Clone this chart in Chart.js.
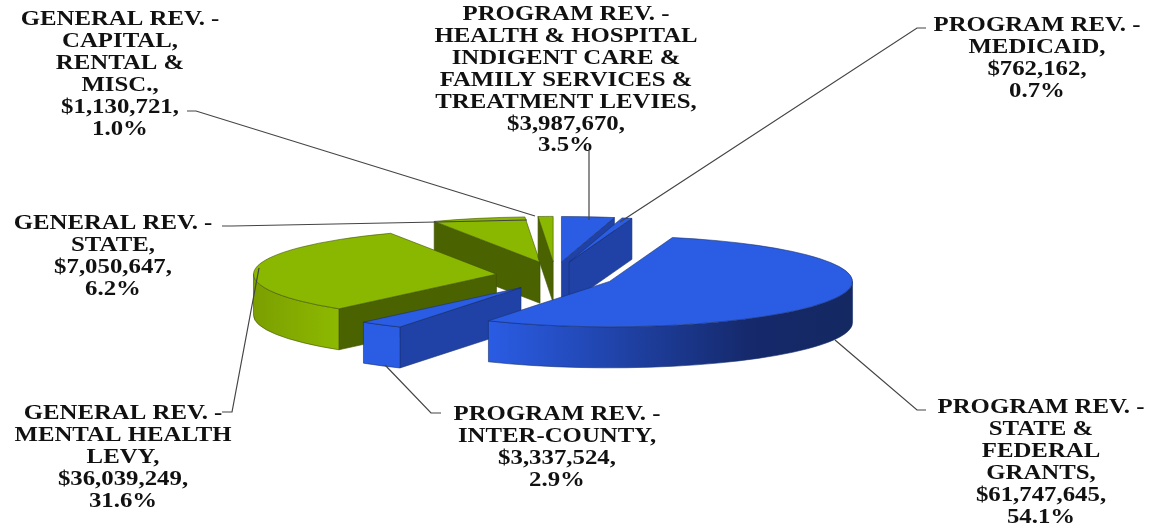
<!DOCTYPE html>
<html>
<head>
<meta charset="utf-8">
<title>Revenue sources</title>
<script src="https://cdn.jsdelivr.net/npm/chart.js@4"></script>
<style>
  html, body { margin: 0; padding: 0; background: #fff; }
  canvas { display: block; }
</style>
</head>
<body>
<canvas id="revenuePie" width="1151" height="525"></canvas>
<script>
// revenue by source, clockwise from 12 o'clock
const names = [
    ['PROGRAM REV. -', 'HEALTH & HOSPITAL', 'INDIGENT CARE &', 'FAMILY SERVICES &', 'TREATMENT LEVIES,'],
    ['PROGRAM REV. -', 'MEDICAID,'],
    ['PROGRAM REV. -', 'STATE &', 'FEDERAL', 'GRANTS,'],
    ['PROGRAM REV. -', 'INTER-COUNTY,'],
    ['GENERAL REV. -', 'MENTAL HEALTH', 'LEVY,'],
    ['GENERAL REV. -', 'STATE,'],
    ['GENERAL REV. -', 'CAPITAL,', 'RENTAL &', 'MISC.,']
];
const amounts = [3987670, 762162, 61747645, 3337524, 36039249, 7050647, 1130721];

const topColors = ['#2a5ce4', '#2a5ce4', '#2a5ce4', '#2a5ce4', '#8ab800', '#8ab800', '#8ab800'];
const edgeColors = ['#17306f', '#17306f', '#17306f', '#17306f', '#3f5200', '#3f5200', '#3f5200'];
const wallColors = ['#2042a6', '#2042a6', '#2042a6', '#2042a6', '#4b6200', '#4b6200', '#4b6200'];
const rimStops = [
    [[0, '#2a5ce4'], [1, '#2a5ce4']],
    [[0, '#2a5ce4'], [1, '#2a5ce4']],
    [[0, '#2a5ce4'], [0.72, '#15296b'], [1, '#142862']],
    [[0, '#2a5ce4'], [1, '#2a5ce4']],
    [[0, '#7b9f00'], [1, '#8db900']],
    [[0, '#8ab800'], [1, '#8ab800']],
    [[0, '#8ab800'], [1, '#8ab800']]
];

// slices are painted back to front
const paintOrder = [5, 6, 0, 1, 4, 3, 2];

const pieRadius = 243;
const flatten = 0.187;   // vertical squash of the disc
const explode = 59;
const explodeFlat = 0.24;
const depth = 41;

// label blocks: centre x, first baseline y, leader polyline
const labelX = [566, 1037, 1041, 557, 123, 113, 120];
const labelY = [20, 31, 413, 420, 419, 229, 25];
const leaders = [
    [[589, 151], [589, 220]],
    [[926, 28], [917, 28], [620, 222]],
    [[926, 410], [917, 410], [835, 340]],
    [[441, 413], [431, 413], [385, 365]],
    [[222, 412], [232, 412], [259, 268]],
    [[222, 226], [232, 226], [437, 222], [527, 220]],
    [[187, 111], [196, 111], [535, 216]]
];
const lineGap = 21.9;
const textStretch = 1.24;

const pie3d = {
    id: 'pie3d',
    beforeDatasetsDraw(chart) {
        const ctx = chart.ctx;
        const arcs = chart.getDatasetMeta(0).data;

        paintOrder.forEach(i => {
            const arc = arcs[i];
            const r = arc.outerRadius;
            const ry = r * flatten;
            const mid = (arc.startAngle + arc.endAngle) / 2;
            const ax = arc.x + Math.cos(mid) * explode;
            const ay = arc.y + Math.sin(mid) * explode * explodeFlat;
            const px = a => ax + Math.cos(a) * r;
            const py = a => ay + Math.sin(a) * ry;

            ctx.save();
            ctx.fillStyle = wallColors[i];
            ctx.strokeStyle = edgeColors[i];
            ctx.lineWidth = 0.6;

            // straight walls: a start edge faces us on the left half, an end edge on the right
            const walls = [];
            if (Math.cos(arc.startAngle) < -1e-6) walls.push(arc.startAngle);
            if (Math.cos(arc.endAngle) > 1e-6) walls.push(arc.endAngle);
            walls.forEach(a => {
                ctx.beginPath();
                ctx.moveTo(ax, ay);
                ctx.lineTo(px(a), py(a));
                ctx.lineTo(px(a), py(a) + depth);
                ctx.lineTo(ax, ay + depth);
                ctx.closePath();
                ctx.fill();
                ctx.stroke();
            });

            // curved outer wall, only the part facing the viewer
            const from = Math.max(arc.startAngle, 0);
            const to = Math.min(arc.endAngle, Math.PI);
            if (to > from) {
                const xs = [px(from), px(to)];
                const x0 = Math.min(...xs);
                const x1 = from <= 0 ? ax + r : Math.max(...xs);
                const grad = ctx.createLinearGradient(x0, 0, x1, 0);
                rimStops[i].forEach(s => grad.addColorStop(s[0], s[1]));
                ctx.fillStyle = grad;
                ctx.beginPath();
                ctx.ellipse(ax, ay, r, ry, 0, from, to);
                ctx.ellipse(ax, ay + depth, r, ry, 0, to, from, true);
                ctx.closePath();
                ctx.fill();
                ctx.stroke();
            }
            ctx.restore();

            // top face: the element draws itself on the squashed plane
            ctx.save();
            ctx.translate(ax, ay);
            ctx.scale(1, flatten);
            ctx.translate(-arc.x, -arc.y);
            arc.draw(ctx);
            ctx.restore();
        });

        // leader lines sit above the slices
        ctx.save();
        ctx.strokeStyle = '#444';
        ctx.lineWidth = 1.2;
        leaders.forEach(pts => {
            ctx.beginPath();
            pts.forEach((p, i) => i ? ctx.lineTo(p[0], p[1]) : ctx.moveTo(p[0], p[1]));
            ctx.stroke();
        });
        ctx.restore();

        // text blocks
        const total = amounts.reduce((a, b) => a + b, 0);
        ctx.save();
        ctx.fillStyle = '#111';
        ctx.font = 'bold 20px "Liberation Serif"';
        ctx.textAlign = 'center';
        ctx.textBaseline = 'alphabetic';
        names.forEach((block, i) => {
            const lines = block.concat([
                '$' + amounts[i].toLocaleString('en-US') + ',',
                (amounts[i] / total * 100).toFixed(1) + '%'
            ]);
            lines.forEach((line, n) => {
                ctx.save();
                ctx.translate(labelX[i], labelY[i] + n * lineGap);
                ctx.scale(textStretch, 1);
                ctx.fillText(line, 0, 0);
                ctx.restore();
            });
        });
        ctx.restore();

        return false;
    }
};

new Chart(document.getElementById('revenuePie'), {
    type: 'pie',
    data: {
        labels: names.map(n => n.join(' ')),
        datasets: [{
            data: amounts,
            backgroundColor: topColors,
            borderColor: edgeColors,
            borderWidth: 1
        }]
    },
    options: {
        responsive: false,
        animation: false,
        radius: pieRadius,
        layout: { padding: { right: 41, top: 27 } },
        plugins: {
            legend: { display: false },
            tooltip: { enabled: false }
        }
    },
    plugins: [pie3d]
});
</script>
</body>
</html>
